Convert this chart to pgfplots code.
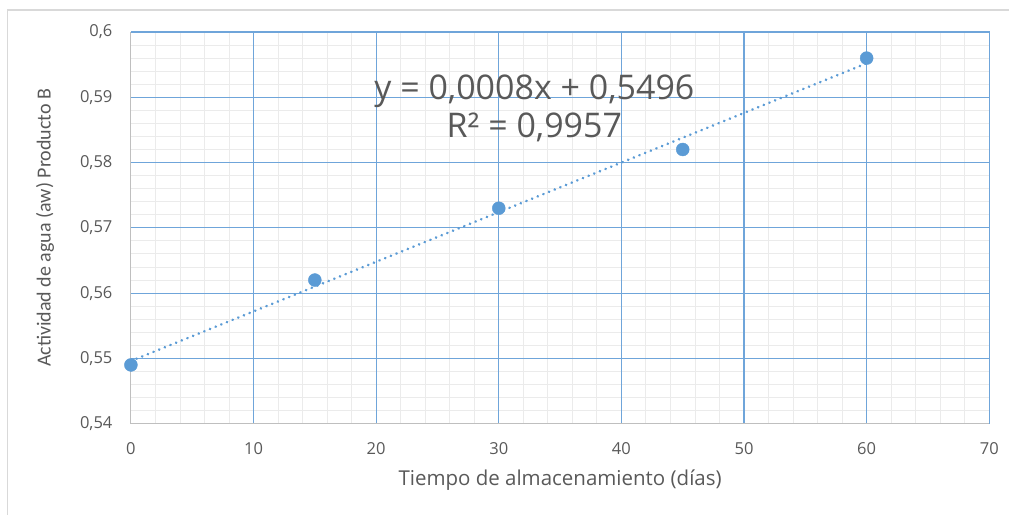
\documentclass[border=0pt]{standalone}
\usepackage{pgfplots}
\pgfplotsset{compat=1.18}
\usepackage{fontspec}
\setmainfont{Open Sans}
\newfontfamily\calib{Carlito}
\definecolor{ser}{HTML}{5B9BD5}
\definecolor{majg}{HTML}{6FA5DA}
\definecolor{ming}{HTML}{EBEBEB}
\definecolor{txt}{HTML}{595959}
\definecolor{axg}{HTML}{BFBFBF}
\definecolor{frm}{HTML}{D9D9D9}
\begin{document}
\begin{tikzpicture}
\begin{axis}[
  scale only axis, width=859pt, height=392pt,
  xmin=0, xmax=70, ymin=0.54, ymax=0.6,
  xtick={0,10,...,70},
  ytick={0.54,0.55,0.56,0.57,0.58,0.59,0.6},
  yticklabels={{0,54},{0,55},{0,56},{0,57},{0,58},{0,59},{0,6}},
  minor x tick num=4, minor y tick num=4,
  grid=minor,
  minor grid style={ming, line width=0.9pt},
  axis line style={draw=none},
  tick style={draw=none},
  ticklabel style={font=\fontsize{16.5}{18}\selectfont, text=txt},
  xticklabel style={anchor=center, yshift=-25pt},
  yticklabel style={anchor=east, xshift=-15pt},
  /pgf/number format/assume math mode=true,
  xlabel={Tiempo de almacenamiento (días)},
  xlabel style={font=\fontsize{20.5}{22}\selectfont, text=txt, at={(axis description cs:0.5,0)}, anchor=center, yshift=-56pt},
  ylabel={Actividad de agua (aw) Producto B},
  ylabel style={font=\calib\fontsize{20}{22}\selectfont, text=txt, at={(axis description cs:0,0.5)}, anchor=center, yshift=86pt},
  clip=false,
]
\coordinate (sw) at (rel axis cs:0,0);
\pgfplotsinvokeforeach{10,20,30,40,50,60}{\draw[majg, line width=1.1pt] (axis cs:#1,0.54) -- (axis cs:#1,0.6);}
\pgfplotsinvokeforeach{0.55,0.56,0.57,0.58,0.59}{\draw[majg, line width=1.1pt] (axis cs:0,#1) -- (axis cs:70,#1);}
\draw[majg, line width=1.1pt] (axis cs:0,0.6) -- (axis cs:70,0.6) -- (axis cs:70,0.54);
\draw[axg, line width=1.1pt] (axis cs:0,0.6) -- (axis cs:0,0.54) -- (axis cs:70,0.54);
\addplot[ser, line width=2.8pt, dash pattern=on 0.1pt off 6pt, line cap=round] coordinates {(0,0.5496) (60,0.5952)};
\addplot[only marks, mark=*, mark size=6.5pt, color=ser, mark options={fill=ser, draw=ser}]
  coordinates {(0,0.549) (15,0.562) (30,0.573) (45,0.582) (60,0.596)};
\node[text=txt, font=\fontsize{34}{39}\selectfont, align=center] at (axis cs:32.9,0.5883) {y = 0,0008x + 0,5496\\R² = 0,9957};
\end{axis}
\pgfresetboundingbox
\draw[frm, line width=1.5pt] ([xshift=-123.5pt]sw) ++(0,-91pt) -- ++(0,505pt) -- ++(1002.5pt,0);
\path ([xshift=-131pt,yshift=-91pt]sw) rectangle ([xshift=879pt,yshift=424pt]sw);
\end{tikzpicture}
\end{document}
